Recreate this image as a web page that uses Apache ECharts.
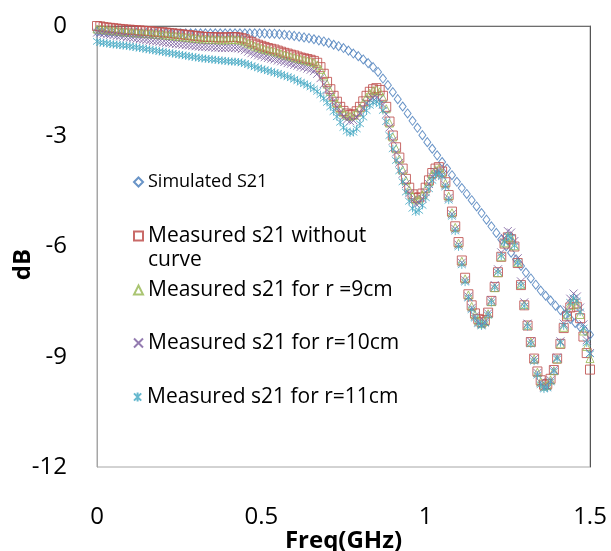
<!DOCTYPE html>
<html>
<head>
<meta charset="utf-8">
<script src="https://cdn.jsdelivr.net/npm/echarts@6/dist/echarts.min.js"></script>
<style>
html,body{margin:0;padding:0;background:#fff;}
#chart{width:611px;height:551px;}
</style>
</head>
<body>
<div id="chart"></div>
<script>
// ---- Data ----
const seriesNames = [
  "Simulated S21",
  "Measured s21 without curve",
  "Measured s21 for r =9cm",
  "Measured s21 for r=10cm",
  "Measured s21 for r=11cm"
];
const xTicks = [0, 0.5, 1, 1.5];
const yTicks = [0, -3, -6, -9, -12];

// Frequency grid of the simulation (GHz)
const freqSim = [0,0.015,0.03,0.045,0.06,0.075,0.09,0.105,0.12,0.135,0.15,0.165,0.18,0.195,0.21,0.225,0.24,0.255,0.27,0.285,
0.3,0.315,0.33,0.345,0.36,0.375,0.39,0.405,0.42,0.435,0.45,0.465,0.48,0.495,0.51,0.525,0.54,0.555,0.57,0.585,
0.6,0.615,0.63,0.645,0.66,0.675,0.69,0.705,0.72,0.735,0.75,0.765,0.78,0.795,0.81,0.825,0.84,0.855,0.87,0.885,
0.9,0.915,0.93,0.945,0.96,0.975,0.99,1.005,1.02,1.035,1.05,1.065,1.08,1.095,1.11,1.125,1.14,1.155,1.17,1.185,
1.2,1.215,1.23,1.245,1.26,1.275,1.29,1.305,1.32,1.335,1.35,1.365,1.38,1.395,1.41,1.425,1.44,1.455,1.47,1.485,1.5];

const simulatedS21 = [-0.15,-0.15,-0.16,-0.16,-0.17,-0.17,-0.18,-0.18,-0.18,-0.19,-0.19,-0.19,-0.2,-0.2,-0.2,-0.2,-0.2,-0.2,-0.2,-0.2,
-0.2,-0.2,-0.2,-0.2,-0.2,-0.2,-0.2,-0.2,-0.2,-0.2,-0.2,-0.2,-0.2,-0.2,-0.2,-0.21,-0.21,-0.22,-0.24,-0.25,
-0.27,-0.29,-0.31,-0.33,-0.36,-0.39,-0.42,-0.46,-0.51,-0.55,-0.6,-0.67,-0.75,-0.82,-0.91,-1.01,-1.12,-1.25,-1.43,-1.61,
-1.8,-1.99,-2.19,-2.38,-2.58,-2.77,-2.97,-3.16,-3.34,-3.52,-3.7,-3.88,-4.06,-4.24,-4.41,-4.57,-4.74,-4.91,-5.09,-5.27,
-5.45,-5.63,-5.81,-5.99,-6.17,-6.35,-6.53,-6.71,-6.87,-7.04,-7.2,-7.34,-7.47,-7.61,-7.73,-7.85,-7.97,-8.08,-8.19,-8.3,-8.4];

// Frequency grid of the measurements (GHz)
const freqMeas = [0,0.01,0.02,0.03,0.04,0.05,0.06,0.07,0.08,0.09,0.1,0.11,0.12,0.13,0.14,0.15,0.16,0.17,0.18,0.19,
0.2,0.21,0.22,0.23,0.24,0.25,0.26,0.27,0.28,0.29,0.3,0.31,0.32,0.33,0.34,0.35,0.36,0.37,0.38,0.39,
0.4,0.41,0.42,0.43,0.44,0.45,0.46,0.47,0.48,0.49,0.5,0.51,0.52,0.53,0.54,0.55,0.56,0.57,0.58,0.59,
0.6,0.61,0.62,0.63,0.64,0.65,0.66,0.67,0.68,0.69,0.7,0.71,0.72,0.73,0.74,0.75,0.76,0.77,0.78,0.79,
0.8,0.81,0.82,0.83,0.84,0.85,0.86,0.87,0.88,0.89,0.9,0.91,0.92,0.93,0.94,0.95,0.96,0.97,0.98,0.99,
1,1.01,1.02,1.03,1.04,1.05,1.06,1.07,1.08,1.09,1.1,1.11,1.12,1.13,1.14,1.15,1.16,1.17,1.18,1.19,
1.2,1.21,1.22,1.23,1.24,1.25,1.26,1.27,1.28,1.29,1.3,1.31,1.32,1.33,1.34,1.35,1.36,1.37,1.38,1.39,
1.4,1.41,1.42,1.43,1.44,1.45,1.46,1.47,1.48,1.49,1.5];

const measNoCurve = [0,-0.01,-0.03,-0.04,-0.05,-0.06,-0.07,-0.08,-0.09,-0.1,-0.1,-0.11,-0.12,-0.12,-0.13,-0.14,-0.14,-0.15,-0.16,-0.17,
-0.17,-0.18,-0.19,-0.2,-0.21,-0.22,-0.23,-0.24,-0.25,-0.26,-0.27,-0.28,-0.29,-0.3,-0.3,-0.3,-0.31,-0.31,-0.31,-0.31,
-0.31,-0.3,-0.3,-0.31,-0.33,-0.36,-0.4,-0.44,-0.48,-0.51,-0.54,-0.57,-0.6,-0.62,-0.64,-0.67,-0.7,-0.73,-0.75,-0.78,
-0.8,-0.83,-0.86,-0.88,-0.9,-0.92,-0.95,-1,-1.12,-1.3,-1.52,-1.72,-1.9,-2.06,-2.2,-2.31,-2.38,-2.42,-2.4,-2.32,
-2.2,-2.05,-1.9,-1.79,-1.72,-1.69,-1.74,-1.9,-2.2,-2.6,-2.98,-3.3,-3.58,-3.88,-4.16,-4.4,-4.58,-4.68,-4.66,-4.56,
-4.4,-4.2,-4,-3.88,-3.84,-3.96,-4.25,-4.6,-5.05,-5.45,-5.88,-6.38,-6.85,-7.3,-7.6,-7.82,-7.97,-8.06,-8,-7.8,
-7.48,-7.1,-6.7,-6.28,-5.92,-5.75,-5.8,-6,-6.45,-7.05,-7.6,-8.15,-8.6,-9.05,-9.4,-9.64,-9.76,-9.74,-9.6,-9.36,
-9.05,-8.65,-8.22,-7.9,-7.66,-7.56,-7.64,-7.95,-8.45,-8.9,-9.35];

const measR9 = [-0.08,-0.09,-0.1,-0.11,-0.12,-0.13,-0.14,-0.15,-0.16,-0.17,-0.17,-0.18,-0.19,-0.19,-0.2,-0.21,-0.21,-0.22,-0.23,-0.24,
-0.24,-0.25,-0.26,-0.27,-0.28,-0.29,-0.3,-0.31,-0.32,-0.33,-0.34,-0.35,-0.36,-0.36,-0.37,-0.37,-0.37,-0.38,-0.38,-0.38,
-0.38,-0.37,-0.37,-0.38,-0.4,-0.43,-0.47,-0.51,-0.55,-0.58,-0.61,-0.64,-0.66,-0.68,-0.7,-0.73,-0.76,-0.79,-0.81,-0.84,
-0.86,-0.89,-0.91,-0.93,-0.95,-0.97,-1,-1.06,-1.18,-1.36,-1.58,-1.78,-1.95,-2.11,-2.25,-2.36,-2.43,-2.46,-2.43,-2.35,
-2.23,-2.09,-1.94,-1.83,-1.76,-1.74,-1.79,-1.95,-2.25,-2.64,-3.02,-3.34,-3.62,-3.92,-4.2,-4.45,-4.63,-4.73,-4.71,-4.6,
-4.43,-4.23,-4.03,-3.91,-3.88,-3.99,-4.28,-4.63,-5.08,-5.48,-5.91,-6.4,-6.88,-7.32,-7.63,-7.86,-8.02,-8.1,-8.04,-7.83,
-7.5,-7.12,-6.71,-6.28,-5.9,-5.72,-5.76,-5.98,-6.43,-7.03,-7.58,-8.14,-8.6,-9.06,-9.42,-9.68,-9.8,-9.78,-9.63,-9.38,
-9.06,-8.65,-8.2,-7.86,-7.6,-7.48,-7.56,-7.85,-8.3,-8.72,-9.05];

const measR10 = [-0.18,-0.2,-0.21,-0.23,-0.24,-0.25,-0.27,-0.28,-0.29,-0.31,-0.32,-0.33,-0.35,-0.36,-0.37,-0.38,-0.4,-0.41,-0.42,-0.43,
-0.45,-0.46,-0.47,-0.48,-0.49,-0.5,-0.51,-0.52,-0.53,-0.54,-0.55,-0.56,-0.57,-0.57,-0.58,-0.58,-0.59,-0.59,-0.6,-0.6,
-0.6,-0.6,-0.6,-0.61,-0.63,-0.66,-0.7,-0.74,-0.77,-0.8,-0.82,-0.85,-0.87,-0.89,-0.91,-0.94,-0.96,-0.98,-1.01,-1.03,
-1.06,-1.08,-1.11,-1.13,-1.16,-1.19,-1.23,-1.3,-1.42,-1.58,-1.75,-1.9,-2.04,-2.2,-2.35,-2.47,-2.55,-2.59,-2.57,-2.49,
-2.37,-2.23,-2.1,-2.01,-1.96,-1.95,-2,-2.14,-2.4,-2.76,-3.12,-3.44,-3.72,-4.02,-4.3,-4.55,-4.74,-4.84,-4.82,-4.7,
-4.52,-4.3,-4.1,-3.97,-3.94,-4.05,-4.33,-4.68,-5.12,-5.52,-5.95,-6.44,-6.92,-7.36,-7.67,-7.9,-8.06,-8.12,-8.05,-7.82,
-7.46,-7.05,-6.62,-6.16,-5.76,-5.58,-5.62,-5.85,-6.32,-6.95,-7.52,-8.1,-8.58,-9.06,-9.44,-9.7,-9.83,-9.8,-9.64,-9.36,
-9.02,-8.58,-8.1,-7.72,-7.42,-7.28,-7.36,-7.66,-8.12,-8.55,-8.9];

const measR11 = [-0.42,-0.45,-0.46,-0.47,-0.49,-0.5,-0.51,-0.52,-0.53,-0.54,-0.55,-0.57,-0.58,-0.6,-0.61,-0.63,-0.64,-0.66,-0.67,-0.69,
-0.7,-0.72,-0.73,-0.75,-0.76,-0.78,-0.79,-0.81,-0.82,-0.84,-0.85,-0.87,-0.88,-0.89,-0.9,-0.91,-0.92,-0.93,-0.94,-0.95,
-0.96,-0.97,-0.97,-0.98,-1,-1.02,-1.05,-1.08,-1.11,-1.14,-1.17,-1.19,-1.22,-1.24,-1.27,-1.29,-1.32,-1.35,-1.38,-1.41,
-1.45,-1.49,-1.53,-1.57,-1.61,-1.66,-1.71,-1.78,-1.87,-1.97,-2.08,-2.2,-2.33,-2.47,-2.62,-2.76,-2.86,-2.91,-2.89,-2.8,
-2.66,-2.48,-2.3,-2.16,-2.08,-2.06,-2.12,-2.3,-2.6,-2.98,-3.34,-3.66,-3.94,-4.24,-4.52,-4.77,-4.96,-5.06,-5.02,-4.88,
-4.67,-4.43,-4.2,-4.05,-4,-4.1,-4.38,-4.74,-5.18,-5.58,-6.01,-6.5,-6.97,-7.4,-7.72,-7.95,-8.1,-8.16,-8.09,-7.87,
-7.52,-7.12,-6.7,-6.26,-5.88,-5.72,-5.76,-5.98,-6.44,-7.05,-7.62,-8.18,-8.65,-9.12,-9.5,-9.76,-9.88,-9.85,-9.68,-9.4,
-9.06,-8.62,-8.16,-7.8,-7.52,-7.4,-7.48,-7.78,-8.22,-8.62,-8.92];

// ---- Build chart ----
function pairs(xs, ys){ return xs.map((x,i)=>[x, ys[i]]); }

const FONT = "'Open Sans', 'Liberation Sans', sans-serif";
const colors = ['#4F81BD','#C0504D','#9BBB59','#8064A2','#4BACC6'];
const symbols = [
  'diamond',
  'rect',
  'triangle',
  'path://M0,0L10,10M10,0L0,10',
  'path://M1,1L9,9M9,1L1,9M5,0L5,10'
];
const sizes = [[7,9],9,8,8,8];
const datasets = [
  pairs(freqSim, simulatedS21),
  pairs(freqMeas, measNoCurve),
  pairs(freqMeas, measR9),
  pairs(freqMeas, measR10),
  pairs(freqMeas, measR11)
];

const series = seriesNames.map((name, k) => ({
  name: name,
  type: 'scatter',
  data: datasets[k],
  symbol: symbols[k],
  symbolSize: sizes[k],
  itemStyle: { color: 'rgba(255,255,255,0)', borderColor: colors[k], borderWidth: 1, opacity: 0.85 },
  emphasis: { disabled: true },
  animation: false
}));

const legendTops = [170, 200, 278, 331, 385];
const legendFont = [18, 21, 21, 21, 21];
const legends = seriesNames.map((name, k) => {
  const lg = {
    data: [name],
    left: 133,
    top: legendTops[k],
    padding: 0,
    itemWidth: 9,
    itemHeight: 9,
    selectedMode: false,
    textStyle: { fontFamily: FONT, fontSize: legendFont[k], color: '#000', lineHeight: 24 }
  };
  if (k === 1) {
    // blank first line keeps the marker level with the first visible line
    lg.formatter = function(){ return '\u00a0\nMeasured s21 without\ncurve'; };
  }
  return lg;
});

const chart = echarts.init(document.getElementById('chart'), null, { renderer: 'canvas' });
chart.setOption({
  animation: false,
  backgroundColor: '#fff',
  grid: { left: 97, right: 21, top: 26, bottom: 84, show: true, borderColor: '#A6A6A6', borderWidth: 1,
          containLabel: false, outerBoundsMode: 'none' },
  legend: legends,
  xAxis: {
    type: 'value', min: xTicks[0], max: xTicks[xTicks.length-1], interval: 0.5,
    axisLine: { show: true, lineStyle: { color: '#6E6E6E' } },
    axisTick: { show: false },
    splitLine: { show: false },
    axisLabel: { fontFamily: FONT, fontSize: 24, color: '#000', margin: 38 },
    name: 'Freq(GHz)', nameLocation: 'middle', nameGap: 62, nameMoveOverlap: false,
    nameTextStyle: { fontFamily: FONT, fontSize: 24, fontWeight: 'bold', color: '#000' }
  },
  yAxis: [{
    type: 'value', min: yTicks[yTicks.length-1], max: yTicks[0], interval: 3,
    axisLine: { show: true, lineStyle: { color: '#A6A6A6' } },
    axisTick: { show: false },
    splitLine: { show: false },
    axisLabel: { fontFamily: FONT, fontSize: 24, color: '#000', margin: 30 },
    name: 'dB', nameLocation: 'middle', nameGap: 62, nameMoveOverlap: false,
    nameTextStyle: { fontFamily: FONT, fontSize: 24, fontWeight: 'bold', color: '#000', padding: [0, 36, 0, 0] }
  }, {
    type: 'value', position: 'right', min: -12, max: 0, interval: 3,
    axisLine: { show: true, onZero: false, lineStyle: { color: '#555' } },
    axisTick: { show: false }, axisLabel: { show: false }, splitLine: { show: false }
  }],
  series: series
});
</script>
</body>
</html>
